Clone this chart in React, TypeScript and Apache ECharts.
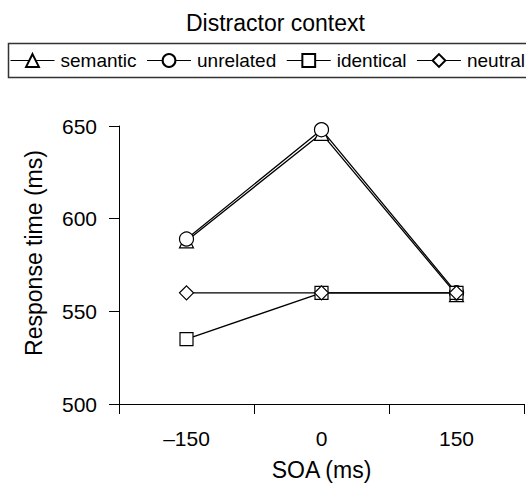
import React, { useEffect, useRef } from "react";
import * as echarts from "echarts";

const categories = ["–150", "0", "150"];
const seriesNames = ["semantic", "unrelated", "identical", "neutral"];
const symbols = ["triangle", "circle", "rect", "diamond"];
const semantic = [588, 646, 559];
const unrelated = [589, 648, 560];
const identical = [535, 560, 560];
const neutral = [560, 560, 560];
const yTicks = { min: 500, max: 650, interval: 50 };

const FONT = "Liberation Sans, Arial, Helvetica, sans-serif";

export default function App() {
  const ref = useRef<HTMLDivElement>(null);
  useEffect(() => {
    if (!ref.current) return;
    const chart = echarts.init(ref.current, null, { renderer: "svg" });
    const values = [semantic, unrelated, identical, neutral];
    const sizes = [14, 14, 13, 14];
    chart.setOption({
      animation: false,
      backgroundColor: "#fff",
      textStyle: { fontFamily: FONT, color: "#000" },
      title: {
        text: "Distractor context",
        left: 186,
        top: 11,
        padding: 0,
        textStyle: { fontFamily: FONT, fontSize: 23, fontWeight: "normal", color: "#000" },
      },
      graphic: [
        {
          type: "rect",
          shape: { x: 8.5, y: 43.5, width: 540, height: 34 },
          style: { fill: "none", stroke: "#333", lineWidth: 1.5 },
          silent: true,
        },
      ],
      legend: {
        left: 10,
        top: 51,
        width: 600,
        padding: 0,
        itemWidth: 44,
        itemHeight: 16,
        itemGap: 10,
        lineStyle: { width: 1 },
        textStyle: { fontFamily: FONT, fontSize: 19, color: "#000", padding: [0, 0, 0, 1] },
        data: seriesNames,
      },
      grid: { left: 119, right: 2, top: 126, bottom: 78, containLabel: false },
      xAxis: {
        type: "category",
        data: categories,
        boundaryGap: true,
        name: "SOA (ms)",
        nameLocation: "middle",
        nameGap: 54,
        nameTextStyle: { fontFamily: FONT, fontSize: 23, color: "#000" },
        axisLine: { lineStyle: { color: "#000", width: 1 } },
        axisTick: { show: true, length: 10, lineStyle: { color: "#000" } },
        axisLabel: { margin: 24, fontFamily: FONT, fontSize: 21, color: "#000" },
        splitLine: { show: false },
      },
      yAxis: {
        type: "value",
        min: yTicks.min,
        max: yTicks.max,
        interval: yTicks.interval,
        name: "Response time (ms)",
        nameLocation: "middle",
        nameGap: 74,
        nameTextStyle: { fontFamily: FONT, fontSize: 23, color: "#000", padding: [0, 0, 0, 24] },
        axisLine: { show: true, lineStyle: { color: "#000", width: 1 } },
        axisTick: { show: true, length: 10, lineStyle: { color: "#000" } },
        axisLabel: { margin: 22, fontFamily: FONT, fontSize: 21, color: "#000" },
        splitLine: { show: false },
      },
      series: seriesNames.map((name, i) => ({
        name,
        type: "line",
        data: values[i],
        symbol: symbols[i],
        symbolSize: sizes[i],
        showAllSymbol: true,
        lineStyle: { color: "#000", width: 1.3 },
        itemStyle: { color: "#fff", borderColor: "#000", borderWidth: 1.2 },
        emphasis: { disabled: true },
        z: 2 + i,
      })),
    });
    return () => chart.dispose();
  }, []);
  return <div ref={ref} style={{ width: 526, height: 486, position: "absolute", left: 0, top: 0 }} />;
}
